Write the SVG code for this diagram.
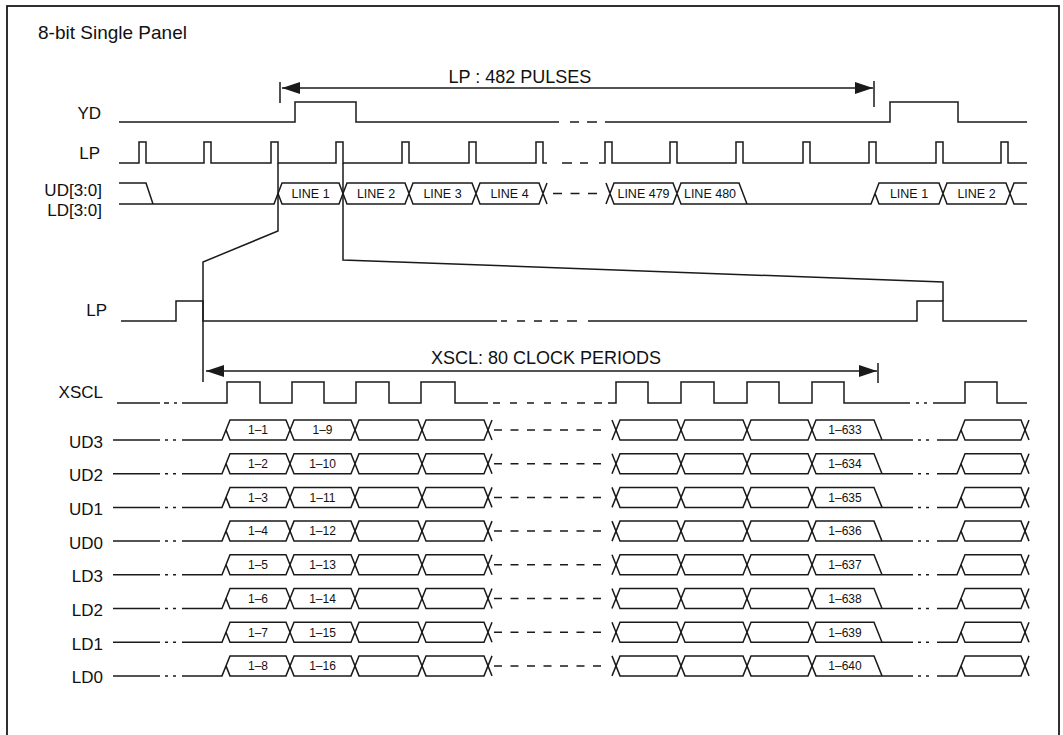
<svg xmlns="http://www.w3.org/2000/svg" xmlns:xlink="http://www.w3.org/1999/xlink" width="1063" height="735" viewBox="0 0 1063 735">
<style>
.w{fill:none;stroke:#1a1a1a;stroke-width:1.5;stroke-linejoin:miter}
.d{fill:none;stroke:#1a1a1a;stroke-width:1.5;stroke-dasharray:8 8.5}
.lbl{font-family:"Liberation Sans",Arial,sans-serif;font-size:17px;fill:#111;text-anchor:end}
.big{font-family:"Liberation Sans",Arial,sans-serif;font-size:18px;fill:#111}
.cell{font-family:"Liberation Sans",Arial,sans-serif;font-size:12px;fill:#111;text-anchor:middle}
.bus{font-family:"Liberation Sans",Arial,sans-serif;font-size:12.5px;fill:#111;text-anchor:middle}
</style>
<defs>
<marker id="ah" viewBox="0 0 18 12" refX="18" refY="6" markerWidth="18" markerHeight="12" orient="auto-start-reverse" markerUnits="userSpaceOnUse">
<path d="M0,0 L18,6 L0,12 z" fill="#1a1a1a"/>
</marker>
<g id="dataWave">
<path class="w" d="M113,0 H160 M165,0 H168 M173,0 H176 M182,0 H222 L230,-20 H286 L294,0 H351 L359,-20 H418 L426,0 H484 L492,-20"/>
<path class="w" d="M226,-10 L230,0 H286 L294,-20 H351 L359,0 H418 L426,-20 H484 L492,0"/>
<path class="d" d="M494,-10 H603"/>
<path class="w" d="M612,-20 L620,0 H677 L685,-20 H743 L751,0 H808 L816,-20 H874 L882,0"/>
<path class="w" d="M612,0 L620,-20 H677 L685,0 H743 L751,-20 H808 L816,0 H913 M918,0 H921 M926,0 H929 M937,0 H957 L965,-20 H1021 L1029,0"/>
<path class="w" d="M961,-10 L965,0 H1021 L1029,-20"/>
</g>
</defs>
<rect x="7" y="6" width="1052" height="740" fill="#fff" stroke="#1a1a1a" stroke-width="1.8"/>
<text class="big" x="38" y="39" style="font-size:19px">8-bit Single Panel</text>

<g id="lp-span">
<path class="w" d="M280,82 V103 M874,81 V107"/>
<path class="w" d="M282,88 H873" marker-start="url(#ah)" marker-end="url(#ah)"/>
<text class="big" x="520" y="83" text-anchor="middle">LP : 482 PULSES</text>
</g>

<g id="yd">
<text class="lbl" x="101" y="119">YD</text>
<path class="w" d="M119,122 H295 V102 H356 V122 H559 M570,122 H579 M587,122 H597 M605,122 H890 V102 H958 V122 H1027"/>
</g>

<g id="lp-top">
<text class="lbl" x="100" y="159">LP</text>
<path class="w" d="M119,163 H139 V142 H146 V163 H204 V142 H211 V163 H271 V142 H278 V163 H336 V142 H343 V163 H402 V142 H409 V163 H469 V142 H476 V163 H536 V142 H543 V163 H547 M562,163 H572 M580,163 H588 M599,163 H605 V142 H612 V163 H670 V142 H677 V163 H736 V142 H743 V163 H803 V142 H810 V163 H869 V142 H876 V163 H936 V142 H943 V163 H1001 V142 H1008 V163 H1027"/>
</g>

<g id="bus">
<text class="lbl" x="102" y="196">UD[3:0]</text>
<text class="lbl" x="102" y="216">LD[3:0]</text>
<path class="w" d="M119,183 H146 L153,204 M119,204 H274 L282,183 H339 L347,204 H405 L413,183 H472 L480,204 H539 L547,183 M278,193.5 L282,204 H339 L347,183 H405 L413,204 H472 L480,183 H539 L547,204"/>
<path class="d" d="M553,193.5 H597" style="stroke-dasharray:9 8.5"/>
<path class="w" d="M606,183 L614,204 H673 L681,183 H739 L747,204 M606,204 L614,183 H673 L681,204 H871 L879,183 H939 L947,204 H1006 L1014,183 H1027 M875,193.5 L879,204 H939 L947,183 H1006 L1014,204 H1027"/>
<text class="bus" x="310.5" y="198">LINE 1</text>
<text class="bus" x="376" y="198">LINE 2</text>
<text class="bus" x="442.5" y="198">LINE 3</text>
<text class="bus" x="509.5" y="198">LINE 4</text>
<text class="bus" x="643.5" y="198">LINE 479</text>
<text class="bus" x="710" y="198">LINE 480</text>
<text class="bus" x="909" y="198">LINE 1</text>
<text class="bus" x="976.5" y="198">LINE 2</text>
</g>

<g id="connectors">
<path class="w" d="M278,163 V231 L203,262 V382"/>
<path class="w" d="M343,163 V260 L943,282 V301"/>
</g>

<g id="lp-mid">
<text class="lbl" x="107" y="316">LP</text>
<path class="w" d="M121,321 H176 V301 H203 V321 H497 M501,321 H507 M517,321 H525 M534,321 H542 M550,321 H558 M567,321 H577 M588,321 H917 V301 H943 V321 H1027"/>
</g>

<g id="xscl-span">
<path class="w" d="M878,363 V383"/>
<path class="w" d="M206,371 H877" marker-start="url(#ah)" marker-end="url(#ah)"/>
<text class="big" x="546" y="364" text-anchor="middle">XSCL: 80 CLOCK PERIODS</text>
</g>

<g id="xscl">
<text class="lbl" x="103" y="398">XSCL</text>
<path class="w" d="M117,403 H160 M164,403 H169 M174,403 H177 M182,403 H227 V382 H260 V403 H292 V382 H324 V403 H356 V382 H389 V403 H421 V382 H455 V403 H488 M493,403 H500 M510,403 H517 M527,403 H534 M544,403 H551 M561,403 H567 M577,403 H585 M594,403 H602 M608,403 H616 V382 H648 V403 H681 V382 H714 V403 H747 V382 H779 V403 H812 V382 H844 V403 H910 M916,403 H919 M924,403 H927 M933,403 H965 V382 H997 V403 H1027"/>
</g>

<g id="ud3">
<text class="lbl" x="103" y="447.5">UD3</text>
<use xlink:href="#dataWave" transform="translate(0,440)"/>
<text class="cell" x="258" y="434.3">1–1</text><text class="cell" x="322.5" y="434.3">1–9</text><text class="cell" x="845" y="434.3">1–633</text>
</g>
<g id="ud2">
<text class="lbl" x="103" y="481.2">UD2</text>
<use xlink:href="#dataWave" transform="translate(0,473.7)"/>
<text class="cell" x="258" y="468">1–2</text><text class="cell" x="322.5" y="468">1–10</text><text class="cell" x="845" y="468">1–634</text>
</g>
<g id="ud1">
<text class="lbl" x="103" y="514.9">UD1</text>
<use xlink:href="#dataWave" transform="translate(0,507.4)"/>
<text class="cell" x="258" y="501.7">1–3</text><text class="cell" x="322.5" y="501.7">1–11</text><text class="cell" x="845" y="501.7">1–635</text>
</g>
<g id="ud0">
<text class="lbl" x="103" y="548.6">UD0</text>
<use xlink:href="#dataWave" transform="translate(0,541.1)"/>
<text class="cell" x="258" y="535.4">1–4</text><text class="cell" x="322.5" y="535.4">1–12</text><text class="cell" x="845" y="535.4">1–636</text>
</g>
<g id="ld3">
<text class="lbl" x="103" y="582.3">LD3</text>
<use xlink:href="#dataWave" transform="translate(0,574.8)"/>
<text class="cell" x="258" y="569.1">1–5</text><text class="cell" x="322.5" y="569.1">1–13</text><text class="cell" x="845" y="569.1">1–637</text>
</g>
<g id="ld2">
<text class="lbl" x="103" y="616">LD2</text>
<use xlink:href="#dataWave" transform="translate(0,608.5)"/>
<text class="cell" x="258" y="602.8">1–6</text><text class="cell" x="322.5" y="602.8">1–14</text><text class="cell" x="845" y="602.8">1–638</text>
</g>
<g id="ld1">
<text class="lbl" x="103" y="649.7">LD1</text>
<use xlink:href="#dataWave" transform="translate(0,642.2)"/>
<text class="cell" x="258" y="636.5">1–7</text><text class="cell" x="322.5" y="636.5">1–15</text><text class="cell" x="845" y="636.5">1–639</text>
</g>
<g id="ld0">
<text class="lbl" x="103" y="683.4">LD0</text>
<use xlink:href="#dataWave" transform="translate(0,675.9)"/>
<text class="cell" x="258" y="670.2">1–8</text><text class="cell" x="322.5" y="670.2">1–16</text><text class="cell" x="845" y="670.2">1–640</text>
</g>
</svg>
